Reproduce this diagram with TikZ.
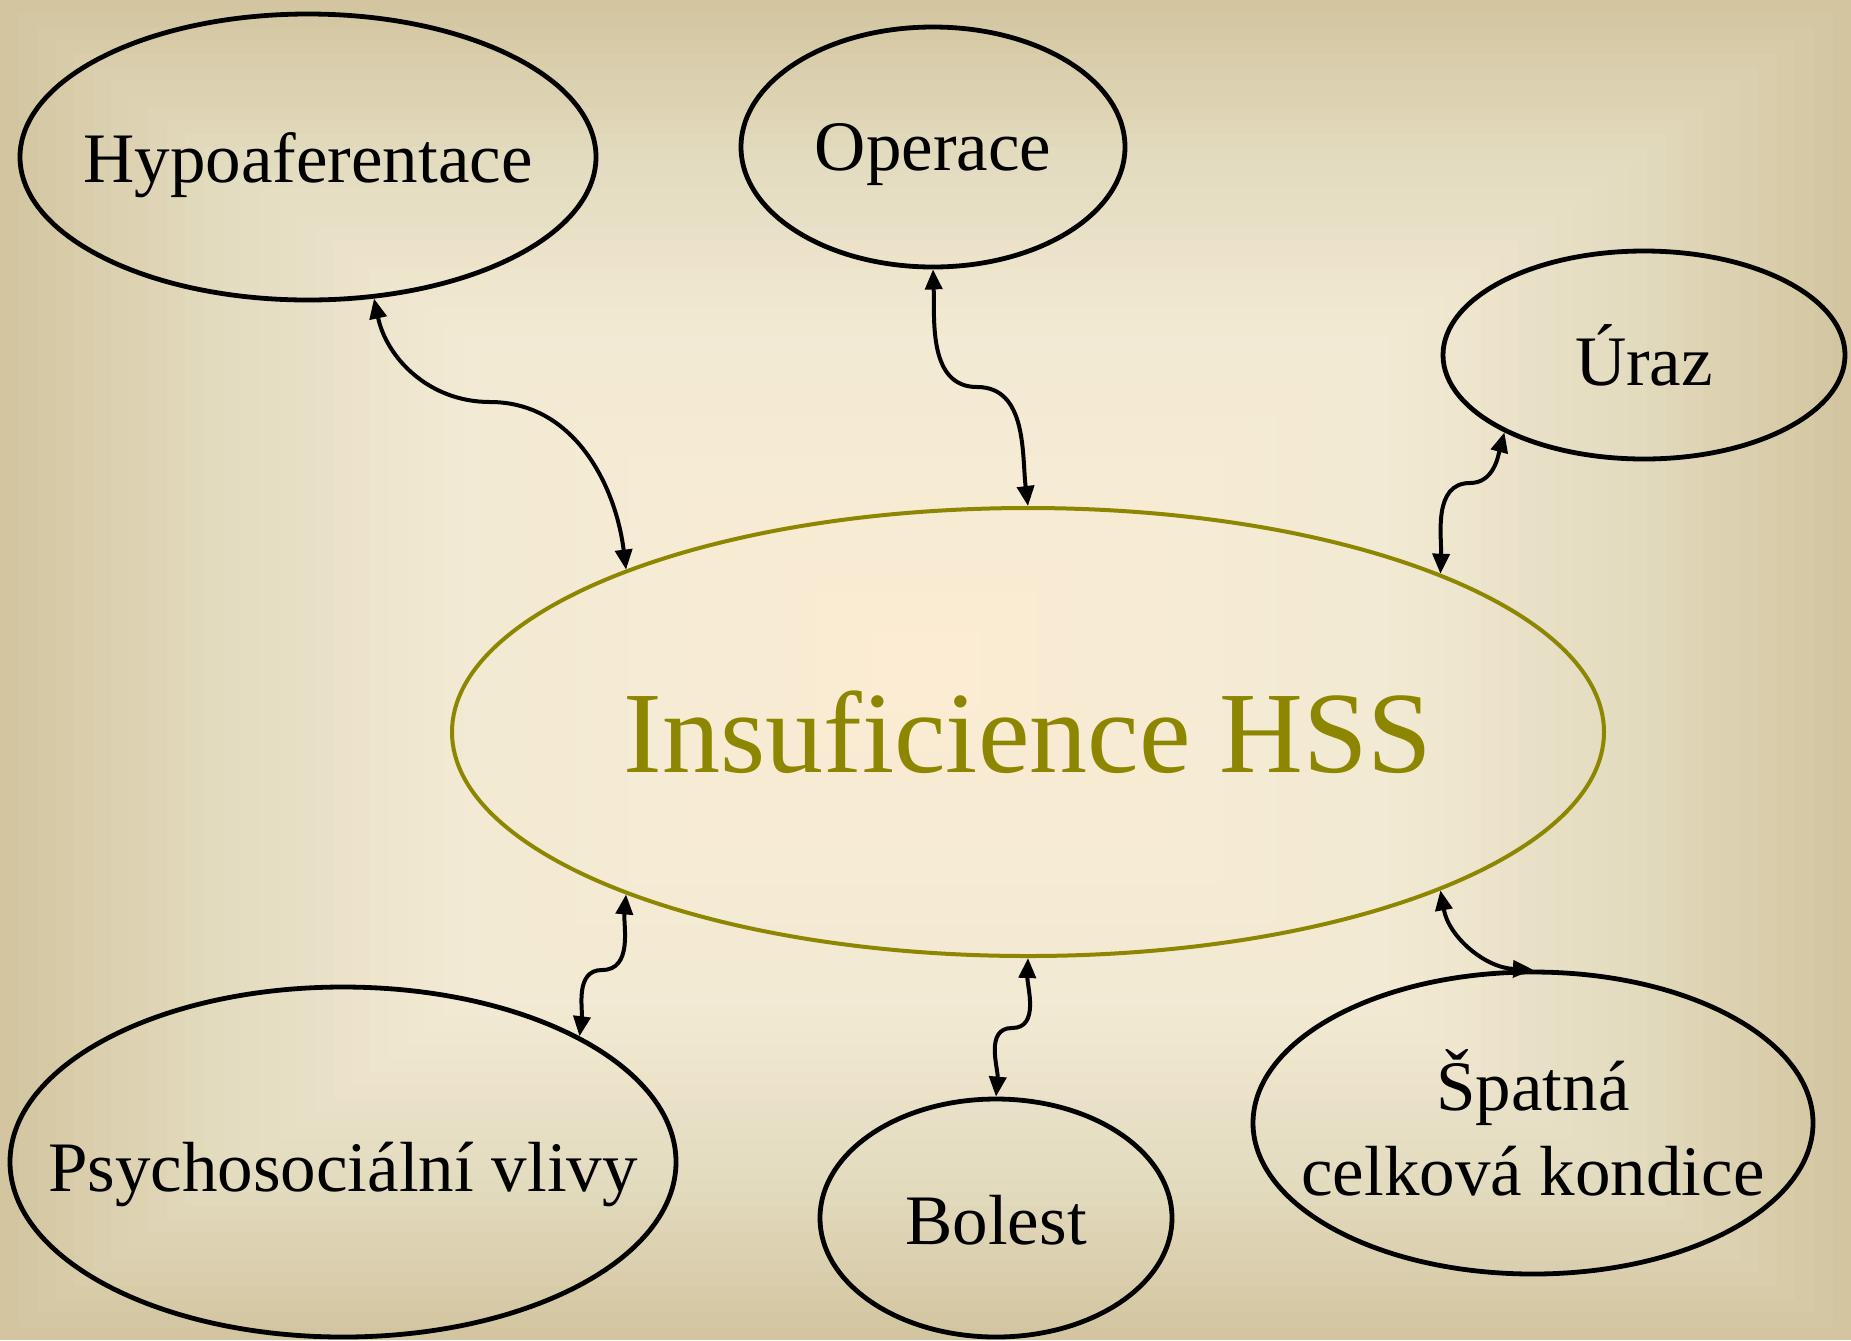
\documentclass[tikz,border=0pt]{standalone}
\usepackage{fontspec}
\setmainfont{Liberation Serif}
\usetikzlibrary{shapes.geometric,arrows.meta}
\definecolor{okraj}{HTML}{D3C5A0}%kraj pozadi
\definecolor{pas}{HTML}{E3DBBE}
\definecolor{svetla}{HTML}{F2EAD4}
\definecolor{stred}{HTML}{FCECD3}%stred pozadi
\begin{document}
\begin{tikzpicture}[x=0.5pt,y=-0.5pt,
  bublina/.style={draw=black,line width=2.4pt,ellipse,inner sep=0pt},
  popis/.style={font=\fontsize{35.5}{42.5}\selectfont,align=center},
  spoj/.style={line width=2pt,{Triangle[length=10pt,width=8.5pt]}-{Triangle[length=10pt,width=8.5pt]}}]
%pozadi: obdelnikovy prechod od stredu ke kraji
\foreach \i in {0,...,49}{%
  \pgfmathsetmacro\t{1-\i/50}
  \ifnum\i<11 \pgfmathsetmacro\p{min(100,max(0,100*(\t-0.78)/0.22))}\colorlet{vrstva}{okraj!\p!pas}%
  \else\ifnum\i<25 \pgfmathsetmacro\p{min(100,max(0,100*(\t-0.5)/0.28))}\colorlet{vrstva}{pas!\p!svetla}%
  \else \pgfmathsetmacro\p{min(100,max(0,100*\t/0.5))}\colorlet{vrstva}{svetla!\p!stred}\fi\fi
  \fill[vrstva] (925.5-925.5*\t,670-670*\t) rectangle (925.5+925.5*\t,670+670*\t);
}
\useasboundingbox (0,0) rectangle (1851,1340);
%bubliny
\node[bublina,minimum width=288pt,minimum height=143pt,label={[popis,yshift=-4pt]center:Hypoaferentace}] (hypo) at (308,157) {};
\node[bublina,minimum width=192pt,minimum height=120pt,label={[popis,yshift=-4pt]center:Operace}] (oper) at (933,147) {};
\node[bublina,minimum width=201pt,minimum height=104pt,label={[popis]center:Úraz}] (uraz) at (1644,355) {};
\node[bublina,draw=olive,line width=2pt,minimum width=576pt,minimum height=224pt,
  label={[font=\fontsize{58}{66}\selectfont,text=olive]center:Insuficience HSS}] (hss) at (1028,732) {};
\node[bublina,minimum width=333pt,minimum height=175pt,label={[popis,yshift=-6pt]center:Psychosociální vlivy}] (psych) at (343,1162) {};
\node[bublina,minimum width=176pt,minimum height=119pt,label={[popis,yshift=-1pt]center:Bolest}] (bolest) at (996,1218) {};
\node[bublina,minimum width=280pt,minimum height=151pt,label={[popis]center:Špatná\\celková kondice}] (kondice) at (1533,1123) {};
%spojnice
\draw[spoj] (hypo.-65.6) to[out=-78,in=180] (490,402) to[out=0,in=97] (hss.158.2);
\draw[spoj] (oper.-90) to[out=-88,in=180] (977,387) to[out=0,in=97] (hss.90);
\draw[spoj] (uraz.-151.4) to[out=-105,in=0] (1470,483) to[out=180,in=88] (hss.21.6);
\draw[spoj] (hss.-158.2) to[out=-95,in=0] (602,970) to[out=180,in=83] (psych.28.2);
\draw[spoj] (hss.-90) to[out=-92,in=0] (1012,1028) to[out=180,in=85] (bolest.90);
\draw[spoj] (hss.-21.6) to[out=-80,in=178] (kondice.90);
\end{tikzpicture}
\end{document}
